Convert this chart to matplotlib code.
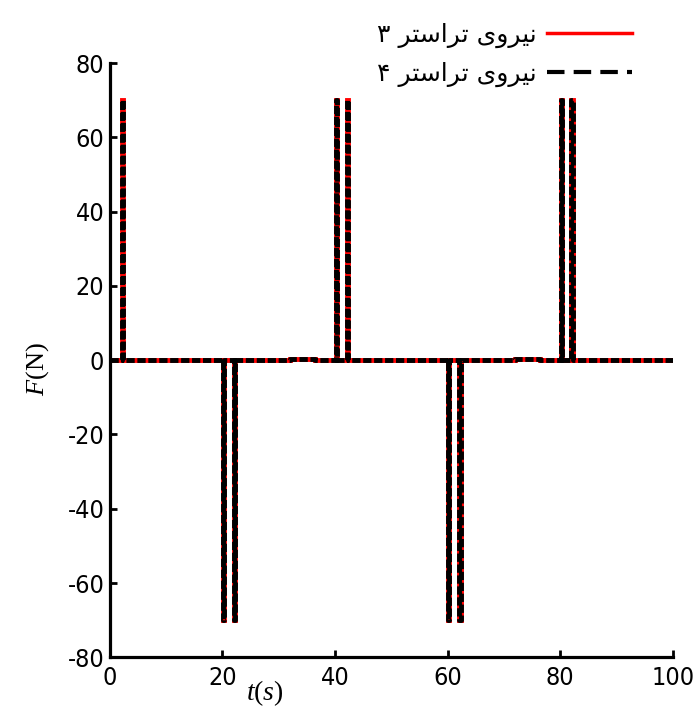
import matplotlib
matplotlib.use('Agg')
import matplotlib.pyplot as plt
from matplotlib.lines import Line2D

# thruster force histories (breakpoints of the step signals)
t_thr3 = [0, 2.1, 2.1, 2.3, 2.3, 20.1, 20.1, 20.3, 20.3, 22.1, 22.1, 22.3, 22.3,
          32.0, 32.0, 36.5, 36.5, 40.2, 40.2, 40.4, 40.4, 42.1, 42.1, 42.3, 42.3,
          60.1, 60.1, 60.3, 60.3, 62.1, 62.1, 62.3, 62.3,
          72.0, 72.0, 76.5, 76.5, 80.1, 80.1, 80.3, 80.3, 82.0, 82.0, 82.2, 82.2, 100]
F_thr3 = [0, 0, 70, 70, 0, 0, -70, -70, 0, 0, -70, -70, 0,
          0, 0.3, 0.3, 0, 0, 70, 70, 0, 0, 70, 70, 0,
          0, -70, -70, 0, 0, -70, -70, 0,
          0, 0.3, 0.3, 0, 0, 70, 70, 0, 0, 70, 70, 0, 0]
t_thr4 = list(t_thr3)
F_thr4 = list(F_thr3)

# persian labels, written in shaped presentation forms (visual order)
legend_labels = ['\u06f3 \ufeae\ufe98\ufeb3\ufe8d\ufeae\ufe97 \ufbfc\ufeed\ufeae\ufbff\ufee7',
                 '\u06f4 \ufeae\ufe98\ufeb3\ufe8d\ufeae\ufe97 \ufbfc\ufeed\ufeae\ufbff\ufee7']

plt.rcParams['axes.unicode_minus'] = False
plt.rcParams['mathtext.fontset'] = 'custom'
plt.rcParams['mathtext.it'] = 'Liberation Serif:italic'
plt.rcParams['mathtext.rm'] = 'Liberation Serif'

fig = plt.figure(figsize=(7, 7.16), dpi=100)
ax = fig.add_axes([0.157, 0.082, 0.804, 0.83])

ax.plot(t_thr3, F_thr3, color='red', lw=3.5, solid_joinstyle='miter')
ax.plot(t_thr4, F_thr4, color='black', lw=3.5, dashes=(1.7, 0.55))

ax.set_xlim(0, 100)
ax.set_ylim(-80, 80)
ax.set_xticks([0, 20, 40, 60, 80, 100])
ax.set_yticks(range(-80, 81, 20))

for s in ['top', 'right']:
    ax.spines[s].set_visible(False)
for s in ['left', 'bottom']:
    ax.spines[s].set_linewidth(2.3)

ax.tick_params(direction='in', length=5, width=2, labelsize=18)
ax.tick_params(axis='x', pad=6)
ax.tick_params(axis='y', pad=4)
for lab in ax.get_xticklabels() + ax.get_yticklabels():
    lab.set_family('DejaVu Sans')
    lab.set_fontstretch('condensed')

ax.set_xlabel('$t(s)$', fontsize=20)
ax.xaxis.set_label_coords(0.275, -0.035)
ax.set_ylabel('$F$(N)', fontsize=19, family='Liberation Serif')
ax.yaxis.set_label_coords(-0.105, 0.485)

handles = [Line2D([], [], color='red', lw=2.5),
           Line2D([], [], color='black', lw=3, dashes=(4.2, 2.2))]
fig.legend(handles, legend_labels, loc='upper right', bbox_to_anchor=(0.935, 1.0),
           frameon=False, markerfirst=False, handlelength=3.4, handletextpad=0.4,
           labelspacing=0.55, prop={'family': 'DejaVu Sans', 'size': 18})

fig.savefig('out.png', dpi=100)
